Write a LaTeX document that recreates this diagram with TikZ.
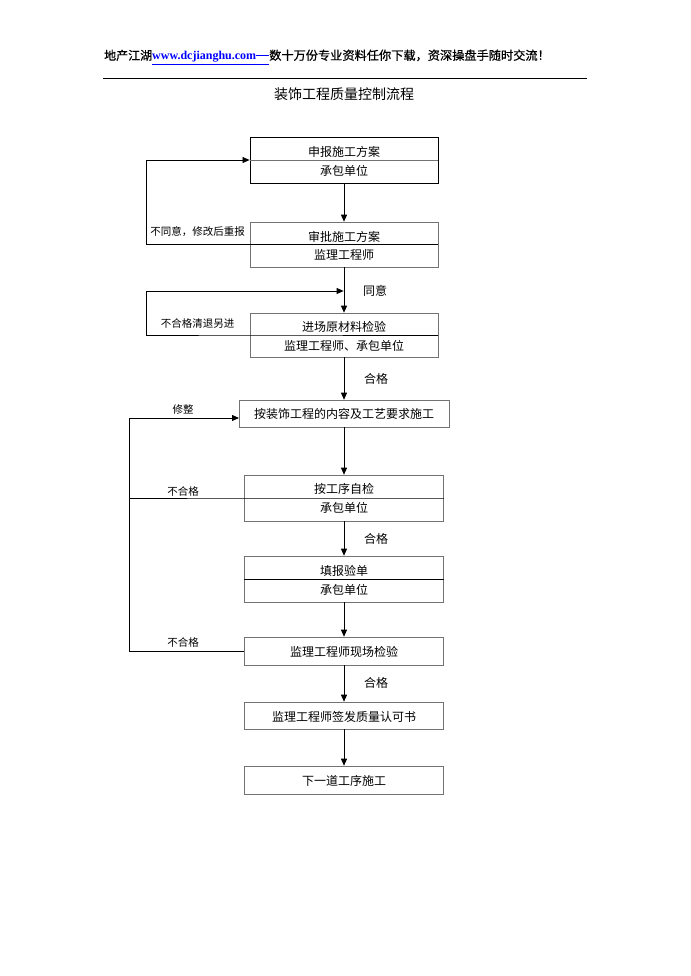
\documentclass[tikz,border=0pt]{standalone}
\usepackage{fontspec}
\setmainfont{Liberation Serif}
\newfontfamily\cjk{Noto Sans CJK SC}
\newfontfamily\cjkfb[FakeBold=0.6]{Noto Sans CJK SC}
\usetikzlibrary{arrows.meta}
\tikzset{
  boxA/.style={draw=black, line width=0.9pt, inner sep=0pt},
  boxB/.style={draw=black!55, line width=0.6pt, inner sep=0pt},
  txt/.style={font=\cjk\fontsize{12}{12}\selectfont, inner sep=0pt},
  lbl/.style={font=\cjk\fontsize{10.5}{10.5}\selectfont, inner sep=0pt},
  lblR/.style={font=\cjk\fontsize{12}{12}\selectfont, inner sep=0pt},
  conn/.style={line width=0.8pt, -{Triangle[length=7pt,width=6pt]}},
  loopline/.style={line width=0.8pt},
}
\begin{document}
\begin{tikzpicture}[x=1pt,y=-1pt]
\useasboundingbox[fill=white] (0,0) rectangle (690,976);
% header
\node[anchor=west, inner sep=0pt, font=\fontsize{12}{12}\selectfont] (hdr) at (104,57)
  {{\cjkfb 地产江湖}\textcolor{blue}{\underline{\textbf{www.dcjianghu.com}\rule[3.6pt]{13pt}{0.8pt}}}{\cjkfb\fontsize{12.2}{12}\selectfont 数十万份专业资料任你下载，资深操盘手随时交流！}};
\coordinate (hl) at (103,78);
\coordinate (hr) at (587,78);
\draw[line width=0.7pt] (hl) -- (hr);
\node[font=\cjk\fontsize{14}{14}\selectfont, inner sep=0pt] (title) at (344,94) {装饰工程质量控制流程};

% boxes
\node[boxA, minimum width=188pt, minimum height=46pt] (b1) at (344,160) {};
\node[boxB, minimum width=188pt, minimum height=45pt] (b2) at (344,244.5) {};
\node[boxB, minimum width=188pt, minimum height=44pt] (b3) at (344,335) {};
\node[boxB, minimum width=210pt, minimum height=27pt] (b4) at (344,413.5) {};
\node[boxB, minimum width=199pt, minimum height=46pt] (b5) at (344,498) {};
\node[boxB, minimum width=199pt, minimum height=46pt] (b6) at (344,579) {};
\node[boxB, minimum width=199pt, minimum height=28pt] (b7) at (344,651) {};
\node[boxB, minimum width=199pt, minimum height=27pt] (b8) at (344,715.5) {};
\node[boxB, minimum width=199pt, minimum height=28pt] (b9) at (344,780) {};

% box texts
\node[txt] (t1a) at (344,152) {申报施工方案};
\node[txt] (t1b) at (344,170.5) {承包单位};
\node[txt] (t2a) at (344,236.5) {审批施工方案};
\node[txt] (t2b) at (344,254.5) {监理工程师};
\node[txt] (t3a) at (344,326.5) {进场原材料检验};
\node[txt] (t3b) at (344,345.5) {监理工程师、承包单位};
\node[txt] (t4) at (344,414) {按装饰工程的内容及工艺要求施工};
\node[txt] (t5a) at (344,489) {按工序自检};
\node[txt] (t5b) at (344,507.5) {承包单位};
\node[txt] (t6a) at (344,570.5) {填报验单};
\node[txt] (t6b) at (344,589.5) {承包单位};
\node[txt] (t7) at (344,652) {监理工程师现场检验};
\node[txt] (t8) at (344,716.5) {监理工程师签发质量认可书};
\node[txt] (t9) at (344,781) {下一道工序施工};

% dividers
\draw[black!55, line width=0.6pt] (b1.west) -- (b1.east);
\draw[loopline] (b6.west) -- (b6.east);

% main arrows
\draw[conn] (b1.south) -- (b2.north);
\draw[conn] (b2.south) -- (b3.north);
\draw[conn] (b3.south) -- (b4.north);
\draw[conn] (b4.south) -- (b5.north);
\draw[conn] (b5.south) -- (b6.north);
\draw[conn] (b6.south) -- (b7.north);
\draw[conn] (b7.south) -- (b8.north);
\draw[conn] (b8.south) -- (b9.north);

% loops
\coordinate (k1) at (146,160);
\draw[conn] (b2.east) -- (b2.west) -| (k1) -- (b1.west);
\coordinate (k2) at (146,291);
\coordinate (j2) at (343.6,291);
\draw[conn] (b3.east) -- (b3.west) -| (k2) -- (j2);
\coordinate (k3) at (129,418);
\coordinate (e4) at (239,418);
\draw[conn] (b7.west) -| (k3) -- (e4);
\coordinate (k4) at (129,498);
\draw[loopline] (b5.east) -- (b5.west) -- (k4);

% labels
\node[lbl] (l1) at (197.5,232) {不同意，修改后重报};
\node[lbl] (l2) at (197.5,323) {不合格清退另进};
\node[lblR] (l3) at (375,291) {同意};
\node[lblR] (l4) at (376,379) {合格};
\node[lbl] (l5) at (183,409.5) {修整};
\node[lbl] (l6) at (183,491.5) {不合格};
\node[lblR] (l7) at (376,538.5) {合格};
\node[lbl] (l8) at (183,642.5) {不合格};
\node[lblR] (l9) at (376,683) {合格};
\end{tikzpicture}
\end{document}
